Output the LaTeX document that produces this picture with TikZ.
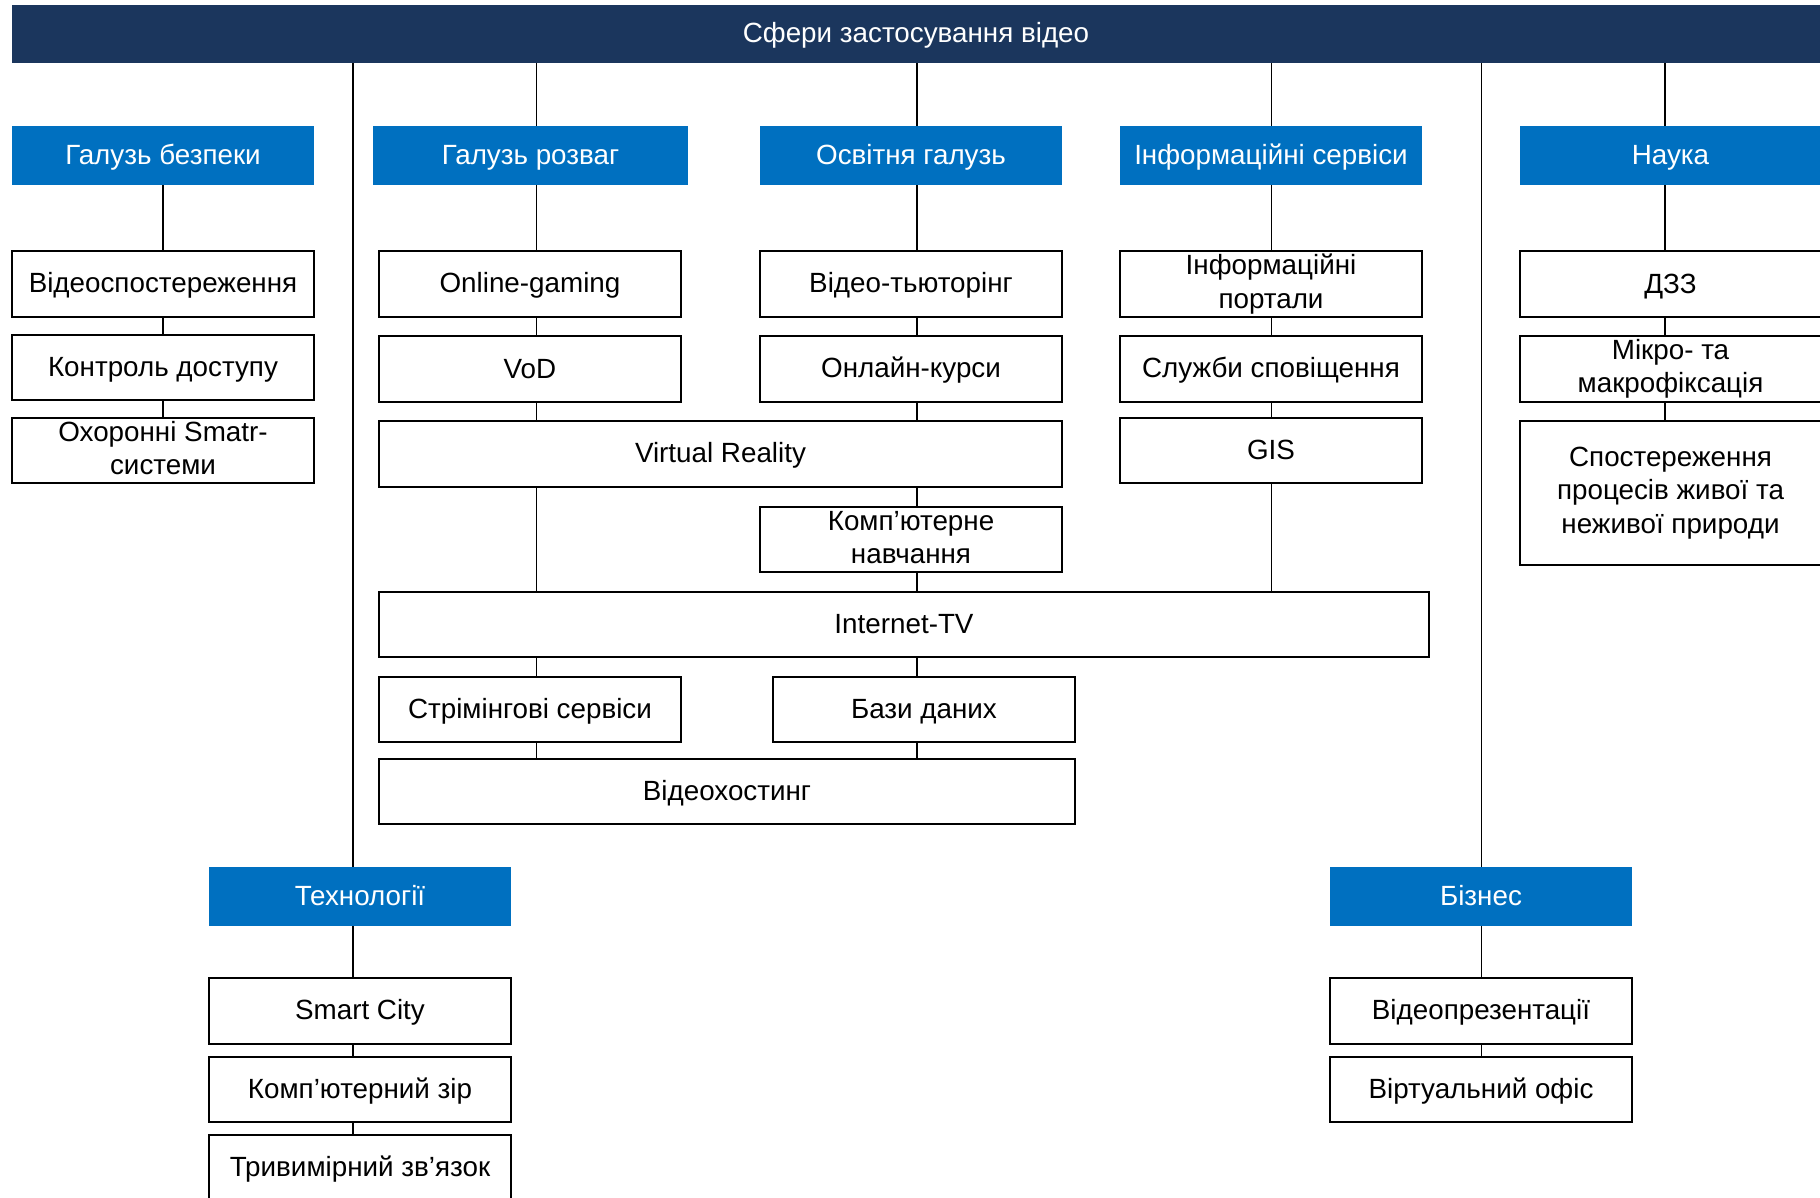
\documentclass[tikz,border=0pt]{standalone}
\usepackage{fontspec}
\setmainfont{Liberation Sans}
\definecolor{navy}{HTML}{1B365D}
\definecolor{catblue}{HTML}{0070C0}
\pgfdeclarelayer{back}
\pgfsetlayers{back,main}

% fixed line boxes so that every label is centred the same way
\newcommand\lblstrut{\rule[-4.8pt]{0pt}{28.5pt}}
\newcommand\lbltopstrut{\rule[-4.8pt]{0pt}{31.1pt}}

% \boxat{name}{style}{x1}{y1}{x2}{y2}{text}: a box given by its corners
\newcommand\boxat[7]{%
  \pgfmathsetmacro\bw{#5-#3}\pgfmathsetmacro\bh{#6-#4}%
  \node[#2, minimum width=\bw pt, minimum height=\bh pt] (#1)
    at ({(#3+#5)/2},{(#4+#6)/2}) {#7};}

\begin{document}
\begin{tikzpicture}[x=1pt,y=-1pt,
  txt/.style={font=\fontsize{27.8}{33.2}\selectfont, inner sep=0pt, align=center,
    execute at begin node=\lblstrut, execute at end node=\lblstrut},
  multi/.style={execute at begin node=\lbltopstrut},
  topbar/.style={txt, fill=navy, text=white},
  category/.style={txt, fill=catblue, text=white},
  item/.style={txt, draw=black, line width=1.6pt, fill=white, text=black},
  conn/.style={draw=black, line width=1.4pt}]

\useasboundingbox (0,0) rectangle (1820,1197);
\clip (0,0) rectangle (1820,1197);

% column axes used by the connectors
\coordinate (ax1) at (163,0);
\coordinate (ax2) at (353,0);
\coordinate (ax3) at (536.7,0);
\coordinate (ax4) at (917,0);
\coordinate (ax5) at (1271.3,0);
\coordinate (ax6) at (1481.3,0);
\coordinate (ax7) at (1665,0);

% title bar
\boxat{bar}{topbar}{12}{5}{1820}{63}{Сфери застосування відео}

% categories
\boxat{hSec}{category}{12}{126}{314}{185}{Галузь безпеки}
\boxat{hEnt}{category}{373}{126}{688}{185}{Галузь розваг}
\boxat{hEdu}{category}{760}{126}{1062}{185}{Освітня галузь}
\boxat{hInf}{category}{1120}{126}{1422}{185}{Інформаційні сервіси}
\boxat{hSci}{category}{1520}{126}{1821}{185}{Наука}
\boxat{hTech}{category}{209}{867}{511}{926}{Технології}
\boxat{hBus}{category}{1330}{867}{1632}{926}{Бізнес}

% security
\boxat{sec1}{item}{12}{251}{314}{317}{Відеоспостереження}
\boxat{sec2}{item}{12}{335}{314}{400}{Контроль доступу}
\boxat{sec3}{item,multi}{12}{418}{314}{483}{Охоронні Smatr-\\системи}

% entertainment
\boxat{ent1}{item}{379}{251}{681}{317}{Online-gaming}
\boxat{ent2}{item}{379}{336}{681}{402}{VoD}
\boxat{vr}{item}{379}{421}{1062}{487}{Virtual Reality}

% education
\boxat{edu1}{item}{760}{251}{1062}{317}{Відео-тьюторінг}
\boxat{edu2}{item}{760}{336}{1062}{402}{Онлайн-курси}
\boxat{cl}{item,multi}{760}{507}{1062}{572}{Комп’ютерне\\навчання}

% information services
\boxat{inf1}{item,multi}{1120}{251}{1422}{317}{Інформаційні\\портали}
\boxat{inf2}{item}{1120}{336}{1422}{402}{Служби сповіщення}
\boxat{gis}{item}{1120}{418}{1422}{483}{GIS}

% shared lower boxes
\boxat{itv}{item}{379}{592}{1429}{657}{Internet-TV}
\boxat{str}{item}{379}{677}{681}{742}{Стрімінгові сервіси}
\boxat{db}{item}{773}{677}{1075}{742}{Бази даних}
\boxat{vh}{item}{379}{759}{1075}{824}{Відеохостинг}

% science
\boxat{sci1}{item}{1520}{251}{1821}{317}{ДЗЗ}
\boxat{sci2}{item,multi}{1520}{336}{1821}{402}{Мікро- та\\макрофіксація}
\boxat{sci3}{item,multi}{1520}{421}{1821}{565}{Спостереження\\процесів живої та\\неживої природи}

% technologies
\boxat{tech1}{item}{209}{978}{511}{1044}{Smart City}
\boxat{tech2}{item}{209}{1057}{511}{1122}{Комп’ютерний зір}
\boxat{tech3}{item}{209}{1135}{511}{1200}{Тривимірний зв’язок}

% business
\boxat{bus1}{item}{1330}{978}{1632}{1044}{Відеопрезентації}
\boxat{bus2}{item}{1330}{1057}{1632}{1122}{Віртуальний офіс}

% vertical connectors, one chain per column axis, behind the boxes
\begin{pgfonlayer}{back}
  \foreach \a/\b in {hSec/sec1, sec1/sec2, sec2/sec3}
    \draw[conn] (\a.south -| ax1) -- (\b.north -| ax1);
  \foreach \a/\b in {bar/hTech, hTech/tech1, tech1/tech2, tech2/tech3}
    \draw[conn] (\a.south -| ax2) -- (\b.north -| ax2);
  \foreach \a/\b in {bar/hEnt, hEnt/ent1, ent1/ent2, ent2/vr, vr/itv, itv/str, str/vh}
    \draw[conn] (\a.south -| ax3) -- (\b.north -| ax3);
  \foreach \a/\b in {bar/hEdu, hEdu/edu1, edu1/edu2, edu2/vr, vr/cl, cl/itv, itv/db, db/vh}
    \draw[conn] (\a.south -| ax4) -- (\b.north -| ax4);
  \foreach \a/\b in {bar/hInf, hInf/inf1, inf1/inf2, inf2/gis, gis/itv}
    \draw[conn] (\a.south -| ax5) -- (\b.north -| ax5);
  \foreach \a/\b in {bar/hBus, hBus/bus1, bus1/bus2}
    \draw[conn] (\a.south -| ax6) -- (\b.north -| ax6);
  \foreach \a/\b in {bar/hSci, hSci/sci1, sci1/sci2, sci2/sci3}
    \draw[conn] (\a.south -| ax7) -- (\b.north -| ax7);
\end{pgfonlayer}
\end{tikzpicture}
\end{document}
